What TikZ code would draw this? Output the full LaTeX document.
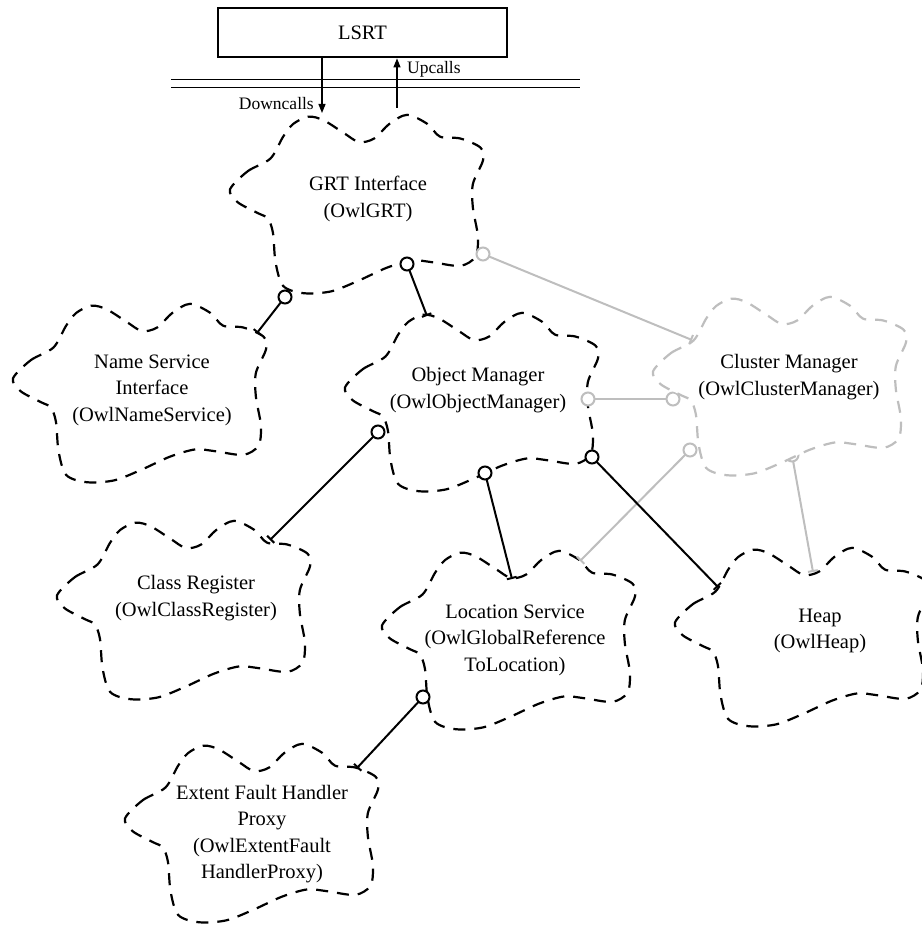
\documentclass[tikz,border=0pt]{standalone}
\usepackage{fontspec}
\setmainfont{Liberation Serif}
\usetikzlibrary{arrows.meta}
\definecolor{lightgrey}{RGB}{190,190,190}

% Outline of a class-category cloud, in a unit box (x right, y down)
\newcommand\cloudoutline{plot[smooth cycle, tension=0.5] coordinates {
  (0.00,0.42) (0.07,0.32) (0.16,0.25) (0.21,0.13) (0.25,0.06) (0.31,0.02)
  (0.37,0.04) (0.45,0.11) (0.51,0.16) (0.57,0.14) (0.63,0.06) (0.70,0.01)
  (0.78,0.06) (0.83,0.13) (0.91,0.14) (0.99,0.19) (1.00,0.26) (0.96,0.39)
  (0.96,0.52) (0.98,0.68) (0.97,0.79) (0.91,0.84) (0.80,0.82) (0.72,0.81)
  (0.62,0.85) (0.51,0.92) (0.40,0.98) (0.29,0.99) (0.21,0.95) (0.18,0.82)
  (0.17,0.66) (0.15,0.58) (0.11,0.55) (0.03,0.49)}}
% \owlcloud{style}{left}{top}
\newcommand\owlcloud[3]{%
  \begin{scope}[shift={(#2,#3)}, xscale=253, yscale=182]
    \path[#1] \cloudoutline;
  \end{scope}}

\tikzset{
  cloudblack/.style={draw=black, fill=white, line width=2.2pt, dash pattern=on 12pt off 9pt},
  cloudgrey/.style={cloudblack, draw=lightgrey},
  cat/.style={font=\fontsize{20.5}{26.5}\selectfont, align=center, inner sep=0pt},
  small/.style={font=\fontsize{17.5}{20}\selectfont, inner sep=0pt},
  uses/.style={line width=2pt, -{Bar[width=10pt, line width=2pt]}},
  usesgrey/.style={uses, draw=lightgrey},
  ring/.style={line width=2pt, draw=black, fill=white},
  ringgrey/.style={ring, draw=lightgrey},
  call/.style={line width=1.2pt, -{Triangle[length=9pt, width=7pt]}},
}

\begin{document}
\begin{tikzpicture}[x=1pt, y=-1pt]
\useasboundingbox (0,0) rectangle (921,928);

% runtime layer
\node[draw, line width=2.8pt, minimum width=289pt, minimum height=49pt,
      font=\fontsize{20.5}{24}\selectfont] (lsrt) at (362.5,32.5) {LSRT};
\draw[line width=1pt] (171,80) -- (580,80) (171,88) -- (580,88);

% attachment points
\coordinate (grt-in)  at (322,113);
\coordinate (grt-out) at (397,108);
\coordinate (grt-p1) at (285,297);
\coordinate (ns-q)   at (257,333);
\coordinate (grt-p2) at (407,264);
\coordinate (om-q)   at (427,316);
\coordinate (grt-p3) at (483,254);
\coordinate (cm-q1)  at (692,340);
\coordinate (om-p1)  at (588,399);
\coordinate (cm-p1)  at (673,399);
\coordinate (om-p2)  at (378,432);
\coordinate (cr-q)   at (270,540);
\coordinate (om-p3)  at (485,473);
\coordinate (ls-q1)  at (512,579);
\coordinate (om-p4)  at (592,457);
\coordinate (heap-q1) at (718,587);
\coordinate (cm-p2)  at (690,450);
\coordinate (ls-q2)  at (580,561);
\coordinate (cm-p3)  at (792,455);
\coordinate (heap-q2) at (813,572);
\coordinate (ls-p1)  at (423,697);
\coordinate (efh-q)  at (357,768);

% categories
\owlcloud{cloudblack}{230}{113}
\node[cat] (grt) at (368,199) {GRT Interface\\(OwlGRT)};
\owlcloud{cloudblack}{13}{302}
\node[cat] (ns) at (152,390) {Name Service\\Interface\\(OwlNameService)};
\owlcloud{cloudblack}{345}{311}
\node[cat] (om) at (478,390) {Object Manager\\(OwlObjectManager)};
\owlcloud{cloudblack}{57}{519}
\node[cat] (cr) at (196,598) {Class Register\\(OwlClassRegister)};
\owlcloud{cloudblack}{382}{549}
\node[cat] (ls) at (515,640) {Location Service\\(OwlGlobalReference\\ToLocation)};
\owlcloud{cloudblack}{675}{546}
\node[cat] (heap) at (820,631) {Heap\\(OwlHeap)};
\owlcloud{cloudblack}{125}{742}
\node[cat] (efh) at (262,834) {Extent Fault Handler\\Proxy\\(OwlExtentFault\\HandlerProxy)};

% calls across the runtime boundary
\draw[call] (grt-in |- lsrt.south) -- (grt-in);
\draw[call] (grt-out) -- (grt-out |- lsrt.south);
\node[small, anchor=east] (down) at (314,104) {Downcalls};
\node[small, anchor=west] (up) at (407,69) {Upcalls};

% cluster manager relations (partly behind its cloud)
\draw[usesgrey, -] (om-p1) -- (cm-p1);
\draw[usesgrey] (cm-p2) -- (ls-q2);
\draw[usesgrey] (cm-p3) -- (heap-q2);
\draw[ringgrey] (om-p1) circle[radius=6.5pt];
\draw[ringgrey] (cm-p1) circle[radius=6.5pt];
\draw[ringgrey] (cm-p2) circle[radius=6.5pt];
\draw[ringgrey] (cm-p3) circle[radius=6.5pt];
\owlcloud{cloudgrey}{653}{295}
\node[cat] (cm) at (789,377) {Cluster Manager\\(OwlClusterManager)};
\draw[usesgrey] (grt-p3) -- (cm-q1);
\draw[ringgrey] (grt-p3) circle[radius=6.5pt];

% uses relations
\draw[uses] (grt-p1) -- (ns-q);
\draw[uses] (grt-p2) -- (om-q);
\draw[uses] (om-p2) -- (cr-q);
\draw[uses] (om-p3) -- (ls-q1);
\draw[uses] (om-p4) -- (heap-q1);
\draw[uses] (ls-p1) -- (efh-q);
\foreach \p in {grt-p1, grt-p2, om-p2, om-p3, om-p4, ls-p1}
  \draw[ring] (\p) circle[radius=6.5pt];
\end{tikzpicture}
\end{document}
